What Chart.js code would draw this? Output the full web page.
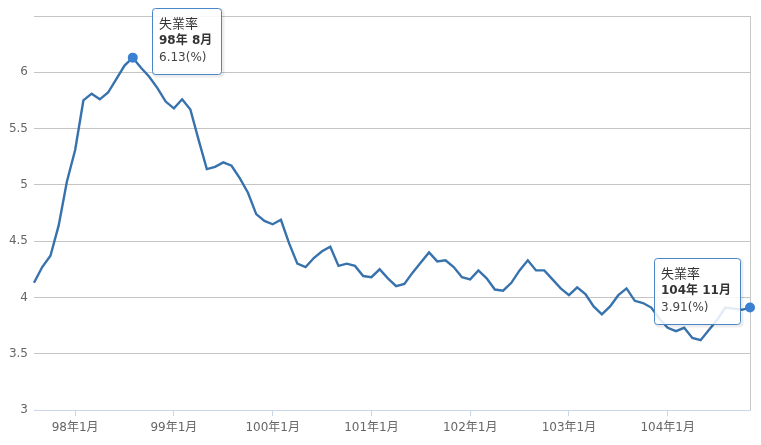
<!DOCTYPE html>
<html lang="zh-Hant">
<head>
<meta charset="UTF-8">
<title>失業率</title>
<script src="https://cdn.jsdelivr.net/npm/chart.js"></script>
<style>
  html, body { margin: 0; padding: 0; background: #fff; }
  #wrap { width: 761px; height: 445px; }
</style>
</head>
<body>
<div id="wrap"><canvas id="rateChart"></canvas></div>
<script>
// 月份: 97年8月 ~ 104年11月
const years = [97, 98, 99, 100, 101, 102, 103, 104];
const startMonth = 8;
const endMonth = 11;

const rates = [
  4.13, 4.27, 4.37, 4.64, 5.03,                                   // 97
  5.31, 5.75, 5.81, 5.76, 5.82, 5.94, 6.06, 6.13, 6.04, 5.96, 5.86, 5.74, // 98
  5.68, 5.76, 5.67, 5.40, 5.14, 5.16, 5.20, 5.17, 5.06, 4.93, 4.74, 4.68, // 99
  4.65, 4.69, 4.48, 4.30, 4.27, 4.35, 4.41, 4.45, 4.28, 4.30, 4.28, 4.19, // 100
  4.18, 4.25, 4.17, 4.10, 4.12, 4.22, 4.31, 4.40, 4.32, 4.33, 4.27, 4.18, // 101
  4.16, 4.24, 4.17, 4.07, 4.06, 4.13, 4.24, 4.33, 4.24, 4.24, 4.16, 4.08, // 102
  4.02, 4.09, 4.03, 3.92, 3.85, 3.92, 4.02, 4.08, 3.97, 3.95, 3.91, 3.81, // 103
  3.73, 3.70, 3.73, 3.64, 3.62, 3.71, 3.80, 3.91, 3.90, 3.89, 3.91        // 104
];

const yTicks = [3, 3.5, 4, 4.5, 5, 5.5, 6];
const yMin = 3, yMax = 6.5;
const shownPoints = ['98年8月', '104年11月'];
const seriesName = '失業率';

const labels = [];
const tipTitles = [];
years.forEach((y, yi) => {
  const m0 = yi === 0 ? startMonth : 1;
  const m1 = yi === years.length - 1 ? endMonth : 12;
  for (let m = m0; m <= m1; m++) {
    labels.push(y + '年' + m + '月');
    tipTitles.push(y + '年 ' + m + '月');
  }
});
const shownIdx = shownPoints.map(l => labels.indexOf(l));

const FONT = '"DejaVu Sans", "Noto Sans CJK TC", sans-serif';
const TIP_FONT = '"DejaVu Sans", "Noto Sans CJK TC", sans-serif';

// two fixed tooltips, drawn next to the highlighted points
const fixedTips = {
  id: 'fixedTips',
  afterDatasetsDraw(chart) {
    const c = chart.ctx;
    const meta = chart.getDatasetMeta(0);
    const area = chart.chartArea;
    shownIdx.forEach(i => {
      const pt = meta.data[i];
      const lines = [seriesName, tipTitles[i], rates[i].toFixed(2) + '(%)'];
      c.save();
      c.font = 'bold 12px ' + TIP_FONT;
      let w = c.measureText(lines[1]).width;
      c.font = '12px ' + TIP_FONT;
      w = Math.max(w, c.measureText(lines[0]).width, c.measureText(lines[2]).width) + 16;
      w = Math.round(w);
      const h = 66;
      let bx = Math.round(pt.x + 19);
      if (bx + w > area.right) bx = Math.round(pt.x - 10 - w);
      const by = Math.round(pt.y - 50);
      // soft shadow
      c.strokeStyle = 'rgba(0,0,0,0.07)';
      c.lineWidth = 3;
      c.beginPath();
      c.roundRect(bx + 2, by + 2, w, h, 3);
      c.stroke();
      c.fillStyle = 'rgba(255,255,255,0.86)';
      c.beginPath();
      c.roundRect(bx + 0.5, by + 0.5, w, h, 3);
      c.fill();
      c.strokeStyle = '#4a86c5';
      c.lineWidth = 1;
      c.stroke();
      c.fillStyle = '#333';
      c.textBaseline = 'middle';
      c.font = '13px ' + TIP_FONT;
      c.fillText(lines[0], bx + 7, by + 17);
      c.font = 'bold 12px ' + TIP_FONT;
      c.fillText(lines[1], bx + 7, by + 33);
      c.fillStyle = '#444';
      c.font = '12px ' + TIP_FONT;
      c.fillText(lines[2], bx + 7, by + 50);
      c.restore();
    });
  }
};

new Chart(document.getElementById('rateChart'), {
  type: 'line',
  data: {
    labels: labels,
    datasets: [{
      label: seriesName,
      data: rates,
      borderColor: '#3872ad',
      borderWidth: 2.4,
      tension: 0,
      fill: false,
      clip: false,
      pointRadius: ctx => shownIdx.includes(ctx.dataIndex) ? 5 : 0,
      pointBackgroundColor: '#3b80d0',
      pointBorderWidth: 0
    }]
  },
  options: {
    responsive: true,
    maintainAspectRatio: false,
    animation: false,
    events: [],
    layout: { padding: { left: 0, right: 11, top: 16, bottom: 0 } },
    plugins: {
      legend: { display: false },
      tooltip: { enabled: false }
    },
    scales: {
      x: {
        offset: false,
        border: { color: '#ccd6eb' },
        grid: {
          color: ctx => ctx.index === labels.length - 1 ? '#c8c8c8' : 'rgba(0,0,0,0)',
          tickColor: ctx => (labels[ctx.index] || '').endsWith('年1月') ? '#ccd6eb' : 'rgba(0,0,0,0)',
          tickLength: 6
        },
        ticks: {
          autoSkip: false,
          maxRotation: 0,
          padding: 5,
          color: '#666',
          font: { family: FONT, size: 12 },
          callback: (v, i) => labels[i].endsWith('年1月') ? labels[i] : ''
        },
        afterFit: s => { s.height = 35; }
      },
      y: {
        min: yMin,
        max: yMax,
        border: { display: false },
        grid: { color: '#c4c4c4', drawTicks: false },
        ticks: {
          stepSize: 0.5,
          padding: 6,
          color: '#666',
          font: { family: FONT, size: 12 },
          callback: v => yTicks.includes(v) ? v : ''
        },
        afterFit: s => { s.width = 34; }
      }
    }
  },
  plugins: [fixedTips]
});
</script>
</body>
</html>
